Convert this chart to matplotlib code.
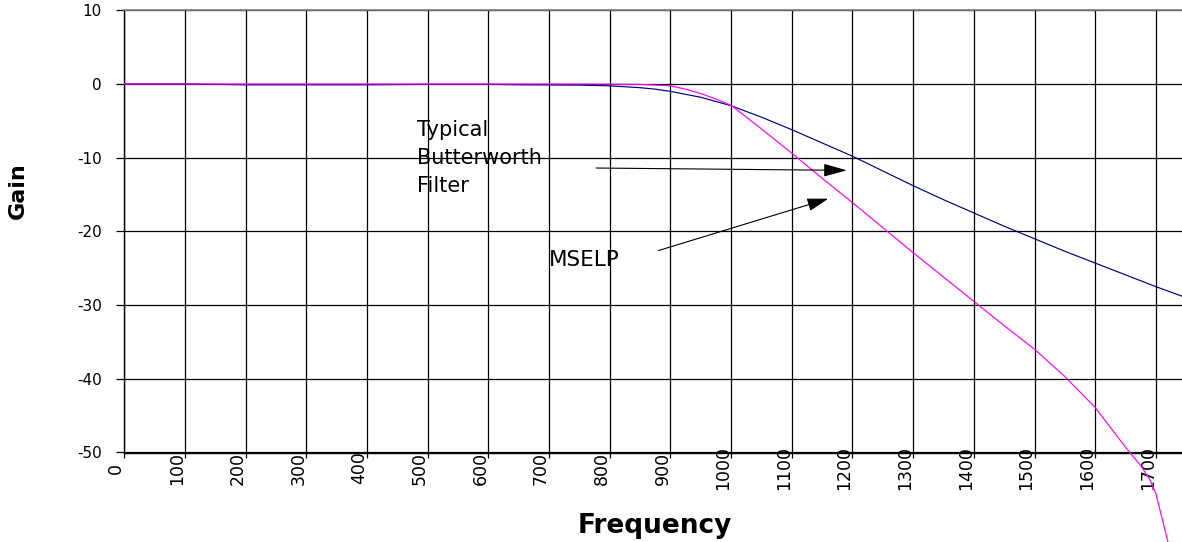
import matplotlib
matplotlib.use("Agg")
import matplotlib.pyplot as plt
from matplotlib.transforms import ScaledTranslation

plt.rcParams['font.family'] = ['DejaVu Sans']

# ---- data ----
butter_freq = [0, 100, 150, 200, 300, 400, 500, 600, 650, 700, 750, 800, 850, 875, 900,
               950, 1000, 1050, 1100, 1150, 1200, 1250, 1300, 1350, 1400, 1450, 1500,
               1550, 1600, 1650, 1700, 1750]
butter_gain = [0, 0, -0.05, -0.1, -0.1, -0.1, -0.05, -0.05, -0.1, -0.12, -0.15, -0.25, -0.5, -0.7, -1.0,
               -1.8, -2.95, -4.5, -6.2, -8.0, -9.8, -11.8, -13.8, -15.7, -17.5, -19.3, -21.0,
               -22.7, -24.3, -25.9, -27.5, -29.0]

mselp_freq = [0, 100, 200, 300, 400, 500, 600, 700, 800, 850, 900, 925, 950, 975, 1000,
              1050, 1100, 1150, 1200, 1250, 1300, 1350, 1400, 1450, 1500, 1550, 1600,
              1650, 1675, 1690, 1700, 1720]
mselp_gain = [0, 0, 0, 0, 0, 0, 0, 0, -0.02, -0.05, -0.25, -0.7, -1.3, -2.05, -2.9,
              -6.1, -9.4, -12.8, -16.1, -19.5, -22.9, -26.2, -29.5, -32.8, -36.0, -39.7, -43.9,
              -49.3, -51.8, -53.7, -55.6, -62.2]

x_ticks = list(range(0, 1800, 100))
x_tick_labels = [str(v) for v in x_ticks]
y_ticks = list(range(-50, 20, 10))
y_tick_labels = [str(v) for v in y_ticks]

# ---- figure ----
W, H = 1182, 542
fig = plt.figure(figsize=(W / 100, H / 100), dpi=100)
ax = fig.add_axes([124.3 / W, 1 - 452.5 / H, (W - 124.3) / W, (452.5 - 10.3) / H])

ax.set_xlim(0, 1743)
ax.set_ylim(-50, 10)

ax.set_xticks(x_ticks)
ax.set_xticklabels(x_tick_labels, rotation=90, fontsize=12.5)
ax.set_yticks(y_ticks)
ax.set_yticklabels(y_tick_labels, fontsize=11)

ax.grid(True, color='black', linewidth=0.9)
ax.set_axisbelow(True)

for s in ['left', 'bottom']:
    ax.spines[s].set_color('black')
    ax.spines[s].set_linewidth(1.0)
ax.spines['top'].set_color('#808080')
ax.spines['top'].set_linewidth(1.2)
ax.spines['right'].set_visible(False)

ax.tick_params(axis='y', direction='out', length=5.8, width=0.9, pad=10.3, colors='black')
ax.tick_params(axis='x', direction='out', length=3.6, width=0.9, pad=7.6, colors='black')

ax.plot(butter_freq, butter_gain, color='#000080', linewidth=0.85, zorder=3)
ax.plot(mselp_freq, mselp_gain, color='#FF00FF', linewidth=0.85, zorder=4, clip_on=False)

# annotations
ax.text(482.4, -4.95, "Typical\nButterworth\nFilter", fontsize=15, ha='left', va='top',
        linespacing=1.5, color='black', zorder=5)
ax.annotate("", xy=(1190.7, -11.72), xytext=(777.5, -11.4),
            arrowprops=dict(arrowstyle='-|>,head_length=1.44,head_width=0.4',
                            color='black', lw=0.8, mutation_scale=10,
                            shrinkA=0, shrinkB=0), zorder=6)
ax.text(698.9, -24.75, "MSELP", fontsize=15.5, ha='left', va='baseline', color='black', zorder=5)
ax.annotate("", xy=(1160, -15.56), xytext=(880.2, -22.6),
            arrowprops=dict(arrowstyle='-|>,head_length=1.3,head_width=0.4',
                            color='black', lw=0.8, mutation_scale=10,
                            shrinkA=0, shrinkB=0), zorder=6)

# axis titles
fig.text(655 / W, 1 - 533 / H, "Frequency", fontsize=19, fontweight='bold',
         ha='center', va='baseline')
fig.text(17.5 / W, 1 - 191 / H, "Gain", fontsize=16, fontweight='bold',
         rotation=90, ha='center', va='center')

# x tick labels: centred vertically below axis, shifted slightly left of the tick
shift = ScaledTranslation(-8 / 100, 0, fig.dpi_scale_trans)
for lbl in ax.get_xticklabels():
    lbl.set_va('center')
    lbl.set_ha('center')
    lbl.set_transform(lbl.get_transform() + shift)

fig.savefig("out.png", dpi=100)
